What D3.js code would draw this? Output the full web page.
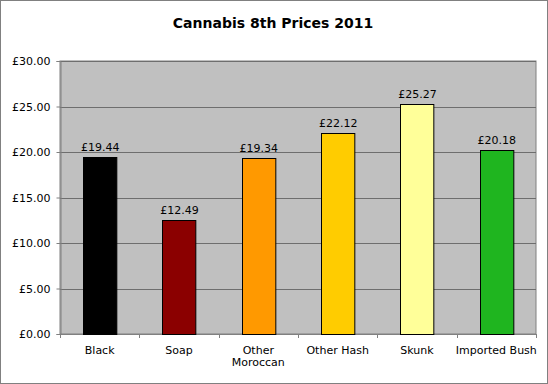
<!DOCTYPE html>
<html><head><meta charset="utf-8">
<script src="https://cdn.jsdelivr.net/npm/d3@7"></script>
<style>body{margin:0;background:#fff}svg{display:block}</style>
</head><body>
<svg id="c" width="548" height="384"></svg>
<script>
const categories = ["Black", "Soap", "Other Moroccan", "Other Hash", "Skunk", "Imported Bush"];
const labelLines = [["Black"], ["Soap"], ["Other", "Moroccan"], ["Other Hash"], ["Skunk"], ["Imported Bush"]];
const values = [19.44, 12.49, 19.34, 22.12, 25.27, 20.18];
const colors = ["#000000", "#8B0000", "#FF9900", "#FFCC00", "#FFFF99", "#1FB51F"];
const yTicks = [0, 5, 10, 15, 20, 25, 30];

const svg = d3.select("#c");
const font = "DejaVu Sans, Verdana, sans-serif";
const W = 548, H = 384;
const x0 = 60, x1 = 536, y0 = 334, y1 = 61;

svg.append("rect").attr("x", 0.5).attr("y", 0.5).attr("width", W - 1).attr("height", H - 1)
  .attr("fill", "#fff").attr("stroke", "#808080");

svg.append("text").attr("x", W / 2 - 1).attr("y", 28).attr("text-anchor", "middle")
  .attr("font-family", font).attr("font-weight", "bold").attr("font-size", 14).text("Cannabis 8th Prices 2011");

const x = d3.scaleBand().domain(categories).range([x0, x1]).paddingInner(0.58).paddingOuter(0.29);
const y = d3.scaleLinear().domain([0, 30]).range([y0, y1]);

svg.append("rect").attr("x", x0).attr("y", y1).attr("width", x1 - x0).attr("height", y0 - y1)
  .attr("fill", "#C0C0C0").attr("stroke", "#808080");

svg.append("g").selectAll("line").data(yTicks.filter(d => d > 0)).join("line")
  .attr("x1", x0).attr("x2", x1).attr("y1", d => Math.round(y(d)) + 0.5).attr("y2", d => Math.round(y(d)) + 0.5)
  .attr("stroke", "#6e6e6e");

// y axis
const ya = svg.append("g").attr("transform", `translate(${x0 + 0.5},0)`)
  .call(d3.axisLeft(y).tickValues(yTicks).tickFormat(d => "£" + d.toFixed(2)).tickSize(4).tickPadding(6));
ya.select(".domain").attr("stroke", "#808080");
ya.selectAll(".tick line").attr("stroke", "#808080");
ya.selectAll("text").attr("font-family", font).attr("font-size", 11).attr("fill", "#000");

// x axis line and boundary ticks
const bounds = d3.range(categories.length + 1).map(i => x0 + i * (x1 - x0) / categories.length);
svg.append("line").attr("x1", x0).attr("x2", x1 + 1).attr("y1", y0 + 0.5).attr("y2", y0 + 0.5).attr("stroke", "#808080");
svg.append("g").selectAll("line").data(bounds).join("line")
  .attr("x1", d => Math.round(d) + 0.5).attr("x2", d => Math.round(d) + 0.5)
  .attr("y1", y0).attr("y2", y0 + 4).attr("stroke", "#808080");

// bars
svg.append("g").selectAll("rect").data(values).join("rect")
  .attr("x", (d, i) => Math.round(x(categories[i])) + 0.5)
  .attr("y", d => Math.round(y(d)) + 0.5)
  .attr("width", x.bandwidth())
  .attr("height", d => y0 - Math.round(y(d)))
  .attr("fill", (d, i) => colors[i]).attr("stroke", "#000").attr("stroke-width", 1);

// value labels
svg.append("g").selectAll("text").data(values).join("text")
  .attr("x", (d, i) => x(categories[i]) + x.bandwidth() / 2 + 0.5)
  .attr("y", d => y(d) - 6)
  .attr("text-anchor", "middle").attr("font-family", font).attr("font-size", 11)
  .text(d => "£" + d.toFixed(2));

// category labels
const cl = svg.append("g").selectAll("text").data(categories).join("text")
  .attr("x", d => x(d) + x.bandwidth() / 2)
  .attr("y", 354).attr("text-anchor", "middle").attr("font-family", font).attr("font-size", 11);
cl.each(function(d, i) {
  d3.select(this).selectAll("tspan").data(labelLines[i]).join("tspan")
    .attr("x", x(d) + x.bandwidth() / 2).attr("dy", (t, j) => j === 0 ? 0 : 12).text(t => t);
});
</script>
</body></html>
